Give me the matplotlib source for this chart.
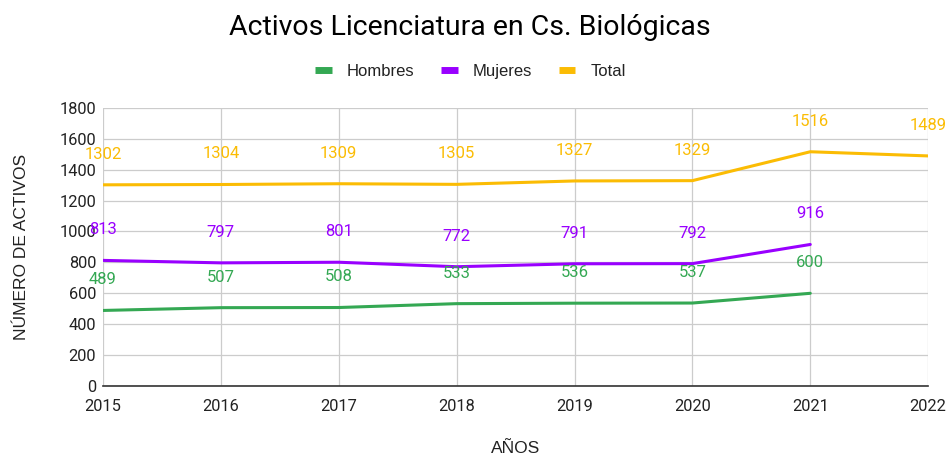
import matplotlib.pyplot as plt

plt.rcParams['font.family'] = ['Roboto', 'DejaVu Sans']

years = [2015, 2016, 2017, 2018, 2019, 2020, 2021, 2022]
hombres = [489, 507, 508, 533, 536, 537, 600]
mujeres = [813, 797, 801, 772, 791, 792, 916]
total = [1302, 1304, 1309, 1305, 1327, 1329, 1516, 1489]

series = [
    ("Hombres", hombres, "#34a853"),
    ("Mujeres", mujeres, "#9900ff"),
    ("Total", total, "#fbbc04"),
]

fig = plt.figure(figsize=(9.5, 4.59), dpi=100)
ax = fig.add_axes([0.1084, 0.159, 0.8686, 0.606])

for name, vals, color in series:
    xs = years[:len(vals)]
    ax.plot(xs, vals, color=color, lw=2.2, label=name, solid_capstyle="round")
    for x, v in zip(xs, vals):
        ax.annotate(str(v), (x, v), xytext=(0, 22), textcoords="offset points",
                    ha="center", va="center", color=color, fontsize=12)

ax.set_xlim(2015, 2022)
ax.set_ylim(0, 1800)
ax.set_yticks(range(0, 1801, 200))
ax.set_xticks(years)
ax.grid(True, color="#cccccc", lw=0.9)
ax.set_axisbelow(True)
for s in ["top", "right", "left"]:
    ax.spines[s].set_visible(False)
ax.spines["bottom"].set_color("#333333")
ax.spines["bottom"].set_linewidth(1.2)
ax.tick_params(length=0, labelsize=11.8, colors="#222222")
ax.tick_params(axis="x", pad=9)
ax.tick_params(axis="y", pad=5)

lab_font = ["Liberation Sans", "DejaVu Sans"]
ax.set_xlabel("AÑOS", fontsize=12.5, color="#222222", labelpad=20, family=lab_font)
ax.set_ylabel("NÚMERO DE ACTIVOS", fontsize=12.5, color="#222222", labelpad=22,
              family=lab_font)

fig.text(0.495, 0.94, "Activos Licenciatura en Cs. Biológicas", ha="center",
         va="center", fontsize=20.5, color="#000000")
leg = fig.legend(loc="center", bbox_to_anchor=(0.495, 0.845), ncol=3, frameon=False,
                 prop={"family": lab_font, "size": 12}, handlelength=1.0,
                 handletextpad=0.9, columnspacing=1.6)
for t in leg.get_texts():
    t.set_color("#222222")
for h in leg.get_lines():
    h.set_linewidth(5)
    h.set_solid_capstyle("butt")

fig.savefig("out.png", dpi=100)
